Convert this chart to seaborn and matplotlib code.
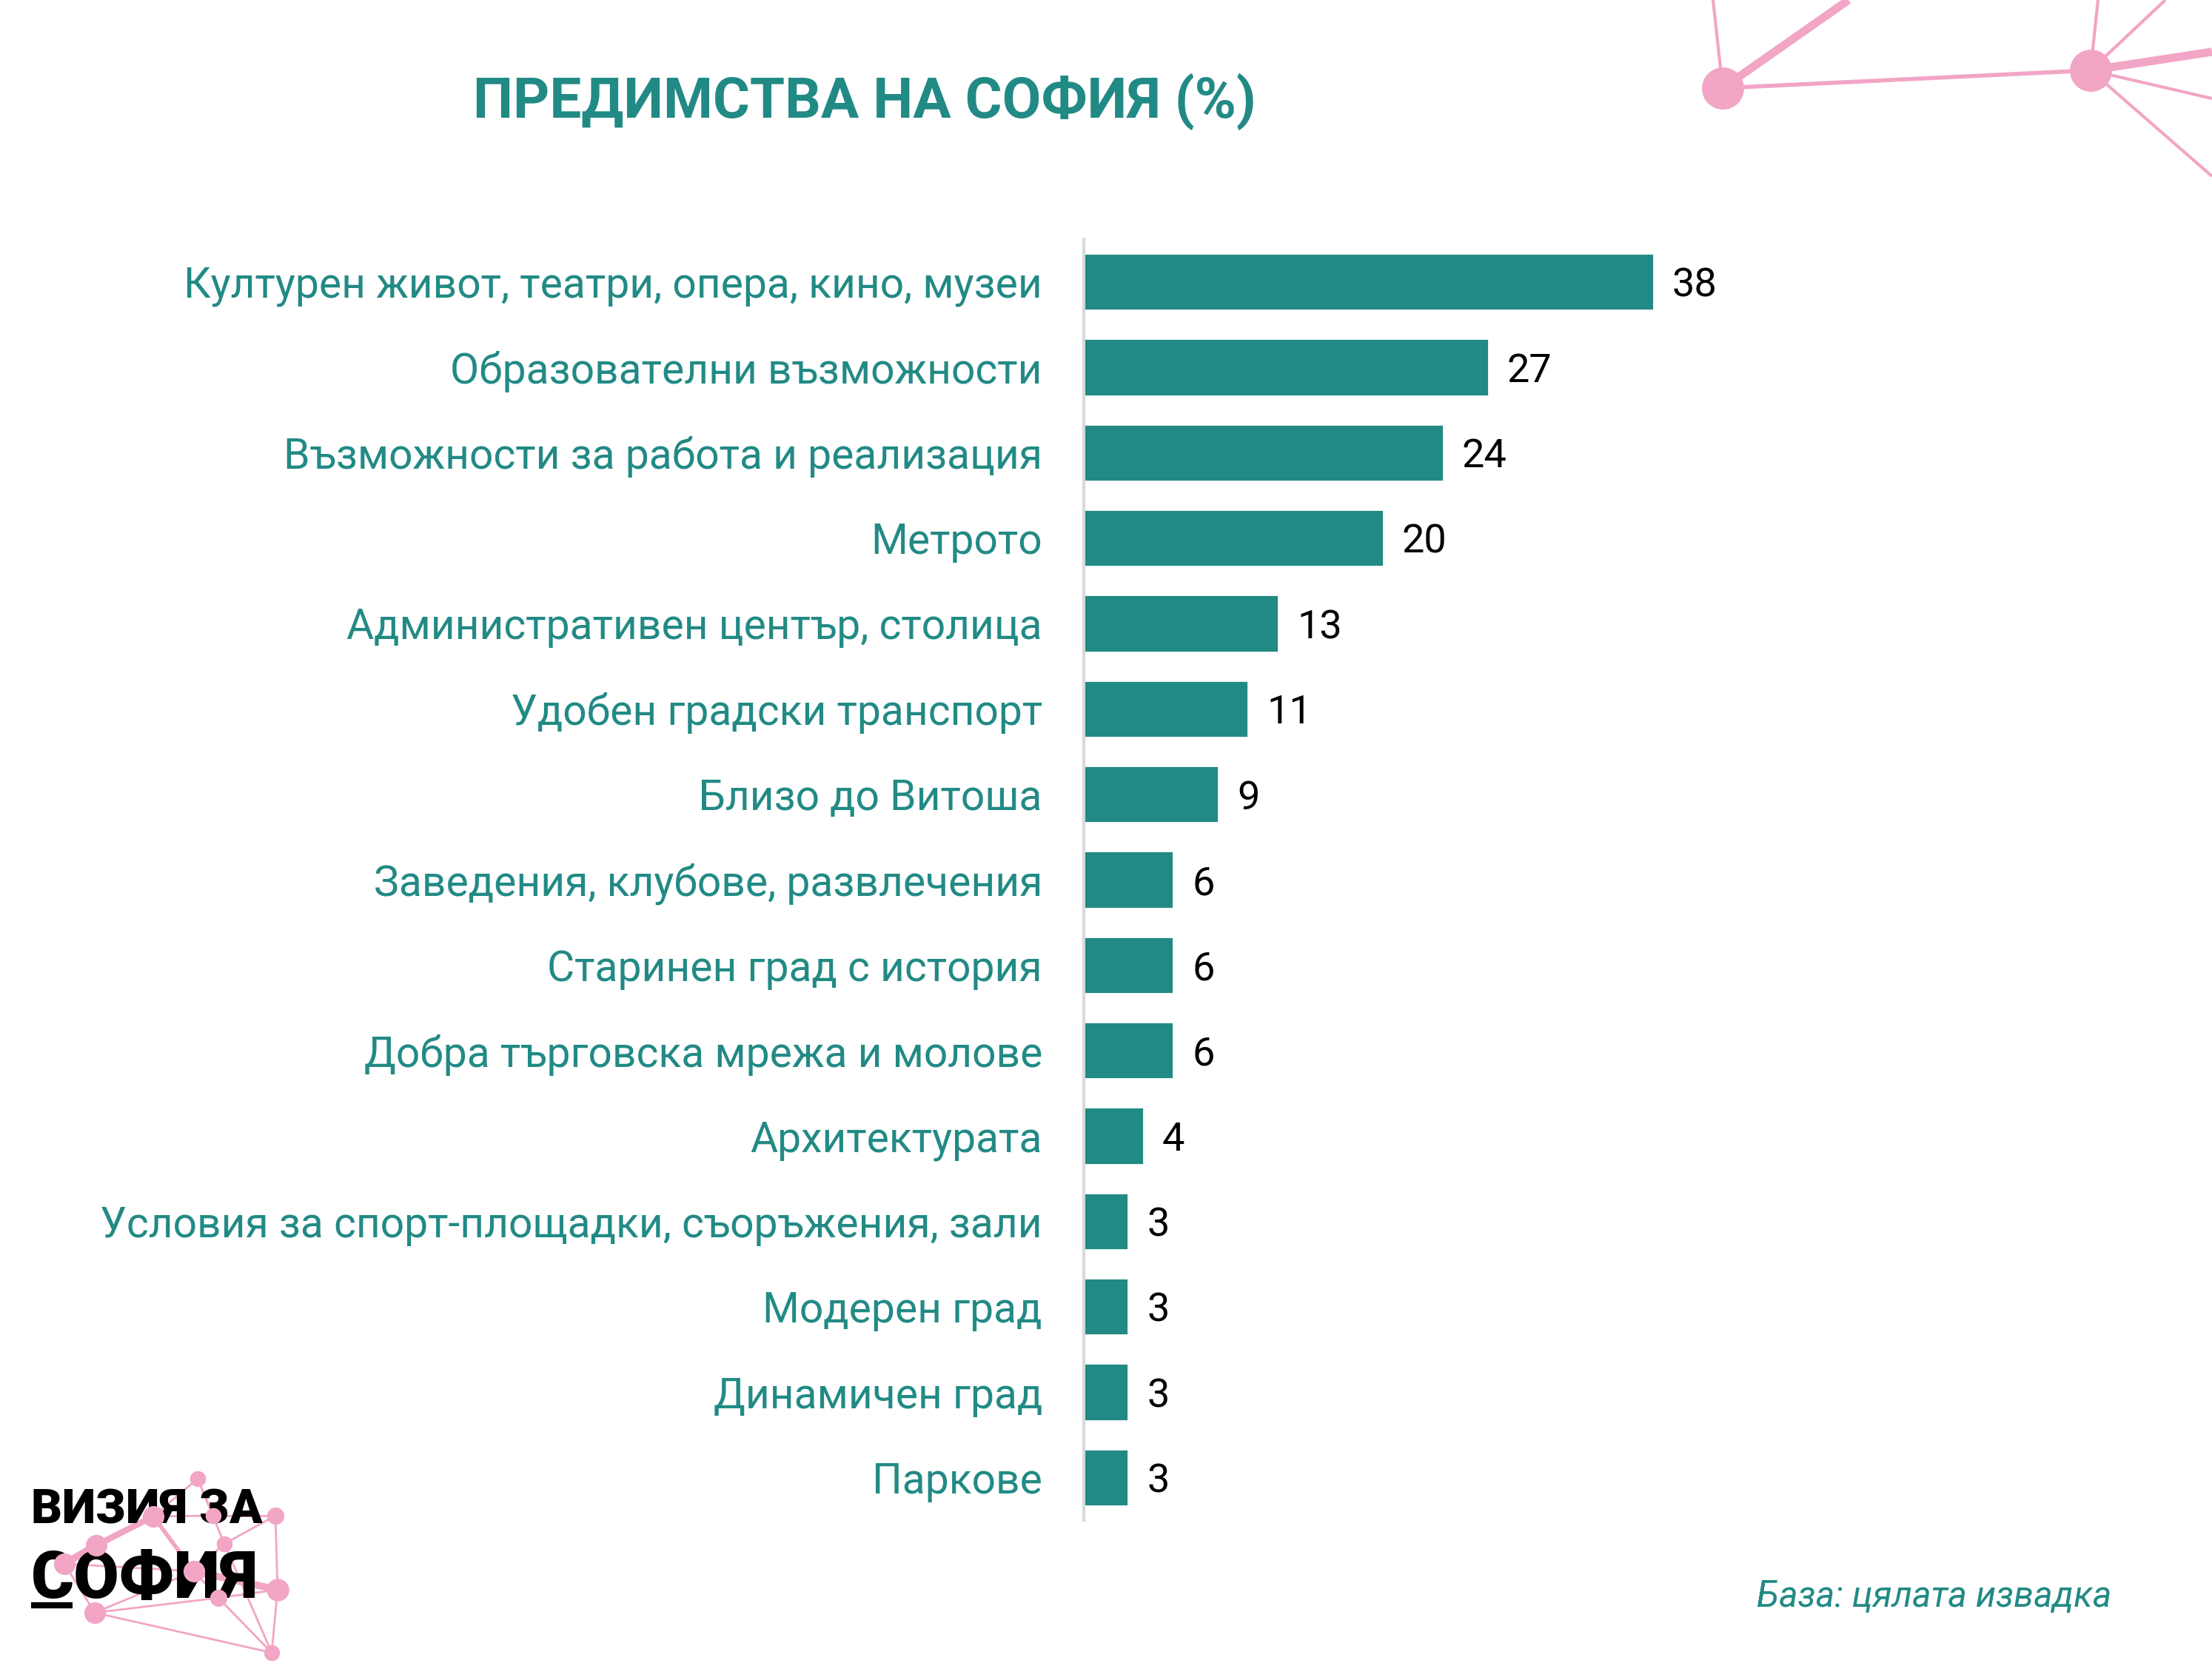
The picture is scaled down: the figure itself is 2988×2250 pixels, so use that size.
import numpy as np
import matplotlib
matplotlib.use("Agg")
import matplotlib.pyplot as plt
import seaborn as sns
import pandas as pd

# chart data
categories = [
    "Културен живот, театри, опера, кино, музеи",
    "Образователни възможности",
    "Възможности за работа и реализация",
    "Метрото",
    "Административен център, столица",
    "Удобен градски транспорт",
    "Близо до Витоша",
    "Заведения, клубове, развлечения",
    "Старинен град с история",
    "Добра търговска мрежа и молове",
    "Архитектурата",
    "Условия за спорт-площадки, съоръжения, зали",
    "Модерен град",
    "Динамичен град",
    "Паркове",
]
values = [38, 27, 24, 20, 13, 11, 9, 6, 6, 6, 4, 3, 3, 3, 3]

title = "ПРЕДИМСТВА НА СОФИЯ (%)"
footnote = "База: цялата извадка"
logo_top = "ВИЗИЯ ЗА"
logo_bottom = "СОФИЯ"

teal = "#228a85"
pink = "#f2a5c5"

sns.set_theme(style="white")
plt.rcParams["font.family"] = ["Roboto", "DejaVu Sans"]

df = pd.DataFrame({"cat": categories, "val": values})

fig = plt.figure(figsize=(14.94, 11.25), dpi=200)

# background decoration layer (pixel coordinates)
deco = fig.add_axes([0, 0, 1, 1], zorder=0)
deco.set_xlim(0, 2988)
deco.set_ylim(2250, 0)
deco.axis("off")

# top-right network
n1, n2 = (2327, 119), (2824, 95)
for (x0, y0), (x1, y1), lw in [
    (n1, (2314, 0), 1.5), (n1, (2497, 0), 4), (n1, n2, 2),
    (n2, (2834, 0), 1.5), (n2, (2925, 0), 1.5), (n2, (2988, 70), 4),
    (n2, (2988, 133), 1.5), (n2, (2988, 238), 1.5),
]:
    deco.plot([x0, x1], [y0, y1], color=pink, lw=lw, solid_capstyle="butt")
deco.scatter([n1[0], n2[0]], [n1[1], n2[1]], s=420, color=pink, lw=0, zorder=3)

# logo network
nodes = {
    "a": (267, 1997), "b": (207, 2048), "c": (288, 2047), "d": (372, 2047),
    "e": (130, 2087), "f": (303, 2085), "g": (87, 2112), "h": (262, 2122),
    "i": (375, 2147), "j": (295, 2158), "k": (128, 2178), "l": (367, 2232),
}
edges = [
    ("g", "e", 3.5), ("e", "b", 3), ("b", "a", 1), ("a", "c", 1), ("c", "d", 1),
    ("b", "c", 1), ("b", "h", 2), ("a", "f", 1), ("f", "d", 1), ("f", "h", 1),
    ("h", "i", 3.5), ("d", "i", 1), ("g", "h", 1), ("g", "k", 1), ("k", "j", 1),
    ("k", "l", 1), ("j", "l", 1), ("i", "l", 1), ("f", "l", 1), ("h", "j", 1),
    ("k", "h", 1), ("j", "i", 1),
]
for p, q, lw in edges:
    deco.plot([nodes[p][0], nodes[q][0]], [nodes[p][1], nodes[q][1]],
              color=pink, lw=lw, zorder=1)
sizes = {"a": 60, "b": 110, "c": 60, "d": 70, "e": 110, "f": 60, "g": 110,
         "h": 110, "i": 120, "j": 70, "k": 110, "l": 60}
for k, (x, y) in nodes.items():
    deco.scatter(x, y, s=sizes[k], color=pink, lw=0, zorder=2)

deco.text(42, 2058, logo_top, fontsize=23.5, fontweight="black", color="black",
          va="baseline", ha="left", zorder=1.5)
deco.text(42, 2158, logo_bottom, fontsize=32, fontweight="black", color="black",
          va="baseline", ha="left", zorder=1.5)
deco.plot([42, 98], [2168, 2168], color="black", lw=3, solid_capstyle="butt")

# bar chart
ax = fig.add_axes([0.4898, 0.0875, 0.407, 0.769], zorder=1)
ax.patch.set_alpha(0)
sns.barplot(data=df, x="val", y="cat", orient="h", color=teal, width=0.67,
            saturation=1, ax=ax)
ax.set_xlim(0, 60)
ax.set_xlabel("")
ax.set_ylabel("")
ax.set_xticks([])
for s in ["top", "right", "bottom"]:
    ax.spines[s].set_visible(False)
ax.spines["left"].set_color("#d9d9d9")
ax.spines["left"].set_linewidth(1.5)
ax.tick_params(axis="y", length=0, pad=20, labelsize=20.5, labelcolor=teal)
labels = ax.bar_label(ax.containers[0], padding=9, fontsize=19.5, color="black")
for t in labels:
    t.set_va("center")
    t.set_y(-2)

fig.text(0.2137, 0.939, title, fontsize=27.5, fontweight="bold", color=teal,
         ha="left", va="center")
fig.text(0.9547, 0.0417, footnote, fontsize=17.5, style="italic", color=teal,
         ha="right", va="center")

fig.savefig("out.png", dpi=200, facecolor="white")
